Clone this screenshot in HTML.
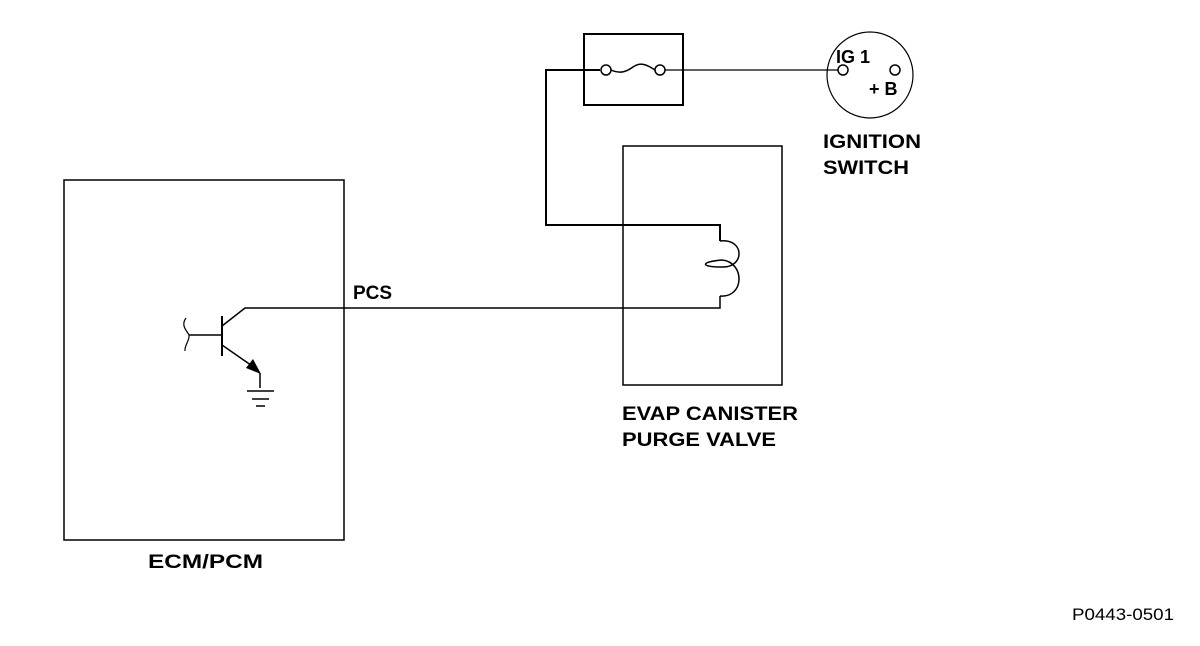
<!DOCTYPE html>
<html><head><meta charset="utf-8"><style>html,body{margin:0;padding:0;background:#fff}svg{display:block}</style></head>
<body>
<svg width="1200" height="646" viewBox="0 0 1200 646" xmlns="http://www.w3.org/2000/svg" font-family="Liberation Sans, sans-serif">
<g fill="none" stroke="#000">
<!-- ECM box -->
<rect x="64" y="180" width="280" height="360" stroke-width="1.5"/>
<!-- purge valve box -->
<rect x="623" y="146" width="159" height="239" stroke-width="1.5"/>
<!-- fuse box -->
<rect x="584" y="34" width="99" height="71" stroke-width="2"/>
<!-- wires -->
<polyline points="600,70 546,70 546,225 720,225 720,241" stroke-width="2"/>
<polyline points="665,70 838,70" stroke-width="1.2"/>
<polyline points="720,296 720,308 245,308 222,326" stroke-width="1.5"/>
<!-- coil -->
<path d="M720,241 C745,238 745,268 722,267 C700,267 700,262 722,260 C745,262 745,298 720,296" stroke-width="1.5"/>
<!-- fuse -->
<circle cx="606" cy="70" r="5" stroke-width="1.5"/>
<circle cx="660" cy="70" r="5" stroke-width="1.5"/>
<path d="M611,70 C620,74 626,72 633,67 C640,62 646,64 655,70" stroke-width="1.5"/>
<!-- ignition switch -->
<circle cx="870" cy="75" r="43" stroke-width="1.2"/>
<circle cx="843" cy="70" r="5" stroke-width="1.5"/>
<circle cx="895" cy="70" r="5" stroke-width="1.5"/>
<!-- transistor -->
<line x1="222" y1="316" x2="222" y2="356" stroke-width="2"/>
<line x1="189" y1="335" x2="222" y2="335" stroke-width="1.5"/>
<path d="M186,318 C180,326 188,332 189,335 C190,340 184,346 185,351" stroke-width="1.2"/>
<line x1="222" y1="345" x2="258" y2="370" stroke-width="1.5"/>
<polyline points="260,373 260,388" stroke-width="1.5"/>
<line x1="247" y1="391" x2="274" y2="391" stroke-width="1.5"/>
<line x1="252" y1="399" x2="269" y2="399" stroke-width="1.5"/>
<line x1="256" y1="406" x2="265" y2="406" stroke-width="1.5"/>
</g>
<polygon points="261,374 246,368 253,359" fill="#000"/>
<g font-weight="bold" font-size="19" fill="#000">
<text x="836" y="63" font-size="18">IG 1</text>
<text x="869" y="95" font-size="18">+ B</text>
<text x="823" y="148" textLength="98" lengthAdjust="spacingAndGlyphs">IGNITION</text>
<text x="823" y="174" textLength="86" lengthAdjust="spacingAndGlyphs">SWITCH</text>
<text x="353" y="299">PCS</text>
<text x="622" y="420" textLength="176" lengthAdjust="spacingAndGlyphs">EVAP CANISTER</text>
<text x="622" y="446" textLength="154" lengthAdjust="spacingAndGlyphs">PURGE VALVE</text>
<text x="148" y="568" textLength="115" lengthAdjust="spacingAndGlyphs">ECM/PCM</text>
</g>
<text x="1072" y="620" font-size="17" textLength="102" lengthAdjust="spacingAndGlyphs">P0443-0501</text>
</svg>
</body></html>
